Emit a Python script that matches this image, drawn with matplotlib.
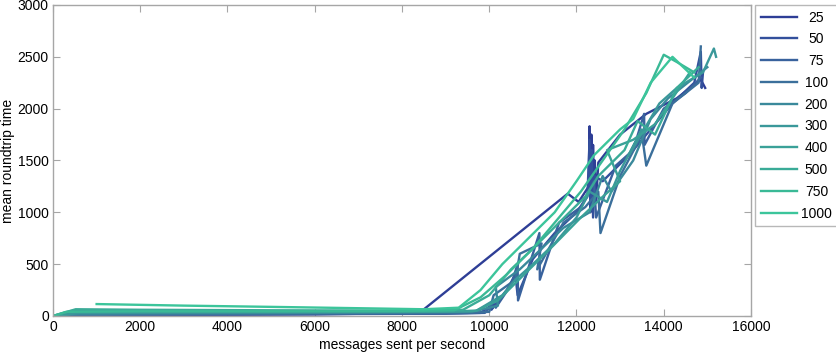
import matplotlib.pyplot as plt

plt.rcParams["font.family"] = ["Liberation Sans", "DejaVu Sans"]

labels = ["25", "50", "75", "100", "200", "300", "400", "500", "750", "1000"]

x_25 = [0, 300, 1000, 2000, 4000, 6000, 8400, 11800, 12050, 12280, 12300, 12320,
        12340, 12360, 12380, 12400, 12420, 12450, 12500, 13000, 13600, 14300, 14850, 14950]
y_25 = [0, 5, 8, 10, 12, 15, 30, 1180, 1100, 1250, 1830, 1000,
        1750, 1100, 1650, 1200, 1500, 1100, 1480, 1750, 1950, 2100, 2280, 2200]

x_50 = [0, 200, 1000, 3000, 5000, 7000, 9000, 9800, 10100, 10050, 10400, 10600, 10650,
        11000, 11500, 12000, 12250, 12300, 12320, 12350, 12380, 12420, 12600, 13200,
        13700, 14200, 14700, 14850, 14870, 14900]
y_50 = [0, 10, 15, 18, 20, 22, 25, 30, 120, 60, 250, 400, 200,
        550, 800, 1000, 1150, 1700, 1050, 1600, 950, 1350, 1300, 1550,
        1800, 2050, 2250, 2550, 2200, 2350]

x_75 = [0, 1000, 3000, 6000, 9000, 9900, 10200, 10150, 10500, 10650, 10660, 11000,
        11150, 11160, 11600, 12100, 12400, 12450, 12900, 13300, 13550, 13560, 14000,
        14500, 14850]
y_75 = [0, 12, 15, 18, 22, 30, 180, 80, 300, 500, 150, 600,
        800, 350, 900, 1050, 1300, 950, 1450, 1600, 1950, 1650, 2000,
        2150, 2300]

x_100 = [0, 1500, 4000, 7000, 9500, 10000, 10100, 10600, 10700, 11200, 11100, 11700,
         12200, 12500, 12550, 13000, 13500, 13600, 14200, 14800, 14850]
y_100 = [0, 15, 20, 25, 30, 40, 200, 350, 600, 700, 450, 900,
         1050, 1200, 800, 1350, 1750, 1450, 2050, 2250, 2600]

x_200 = [0, 500, 2000, 5000, 8000, 9600, 10200, 10150, 10700, 11200, 11700, 12300,
         12600, 12800, 13300, 13700, 14100, 14700, 15000]
y_200 = [0, 20, 25, 28, 35, 40, 100, 280, 450, 650, 850, 1000,
         1350, 1200, 1500, 1900, 2100, 2300, 2400]

x_300 = [0, 600, 3000, 6000, 9000, 9700, 10300, 10600, 11000, 11500, 12000, 12300,
         12700, 13000, 13500, 13200, 13900, 14300, 14900, 15150, 15200]
y_300 = [0, 30, 35, 38, 40, 50, 200, 350, 500, 700, 950, 1200,
         1100, 1400, 1800, 1550, 2050, 2200, 2350, 2580, 2500]

x_400 = [0, 410, 2000, 5000, 8500, 9700, 10200, 10800, 11400, 12100, 12600, 13000,
         12700, 13300, 13800, 14200, 14600]
y_400 = [0, 48, 45, 42, 40, 50, 150, 400, 650, 950, 1150, 1300,
         1600, 1700, 1850, 2100, 2350]

x_500 = [0, 520, 2000, 5000, 8000, 9400, 10000, 10500, 11000, 11600, 12200, 12500,
         13100, 13400, 13800, 14300, 14800]
y_500 = [0, 65, 60, 55, 52, 60, 200, 450, 650, 900, 1150, 1350,
         1600, 1880, 1750, 2200, 2400]

x_750 = [0, 300, 2000, 5000, 8000, 9200, 9800, 10400, 11000, 11600, 12100, 12600,
         13100, 13600, 14000, 14300, 14700]
y_750 = [0, 40, 45, 45, 48, 55, 180, 400, 650, 950, 1200, 1500,
         1800, 2150, 2520, 2450, 2350]

x_1000 = [1000, 3000, 5000, 7000, 8500, 9300, 9800, 10300, 10900, 11500, 12000, 12400,
          13000, 13300, 13700, 14200, 14700]
y_1000 = [115, 100, 88, 75, 65, 80, 250, 500, 750, 1000, 1300, 1550,
          1800, 1900, 2250, 2500, 2300]

xs = [x_25, x_50, x_75, x_100, x_200, x_300, x_400, x_500, x_750, x_1000]
ys = [y_25, y_50, y_75, y_100, y_200, y_300, y_400, y_500, y_750, y_1000]

colors = ["#2e3e96", "#33509c", "#39629d", "#3b6f9b", "#3a899b",
          "#3a989a", "#3aa198", "#3aab97", "#3ab996", "#3cc59b"]

fig = plt.figure(figsize=(8.36, 3.56), dpi=100)
ax = fig.add_axes([0.0634, 0.1124, 0.8349, 0.8736])

for xv, yv, c, lab in zip(xs, ys, colors, labels):
    ax.plot(xv, yv, color=c, linewidth=1.7, label=lab)

ax.set_xlim(0, 16000)
ax.set_ylim(0, 3000)
ax.set_xticks(range(0, 16001, 2000))
ax.set_yticks(range(0, 3001, 500))
ax.set_xlabel("messages sent per second", fontsize=10, labelpad=3)
ax.set_ylabel("mean roundtrip time", fontsize=10, labelpad=2)

for s in ax.spines.values():
    s.set_color("#a6a6a6")
    s.set_linewidth(1.0)
ax.tick_params(direction="in", length=5, width=0.8, color="#a6a6a6",
               labelsize=10, top=True, right=True, pad=3)

leg = ax.legend(loc="upper left", bbox_to_anchor=(1.006, 1.0), fontsize=10,
                frameon=True, fancybox=False, handlelength=2.6, handletextpad=0.3,
                labelspacing=0.56, borderpad=0.4, borderaxespad=0)
leg.get_frame().set_edgecolor("#a6a6a6")
leg.get_frame().set_linewidth(1.0)

# centre the legend labels like the original
fig.canvas.draw()
r = fig.canvas.get_renderer()
widths = [t.get_window_extent(r).width for t in leg.get_texts()]
wmax = max(widths)
for t, w in zip(leg.get_texts(), widths):
    t.set_x((wmax - w) / 2)

fig.savefig("out.png", dpi=100)
